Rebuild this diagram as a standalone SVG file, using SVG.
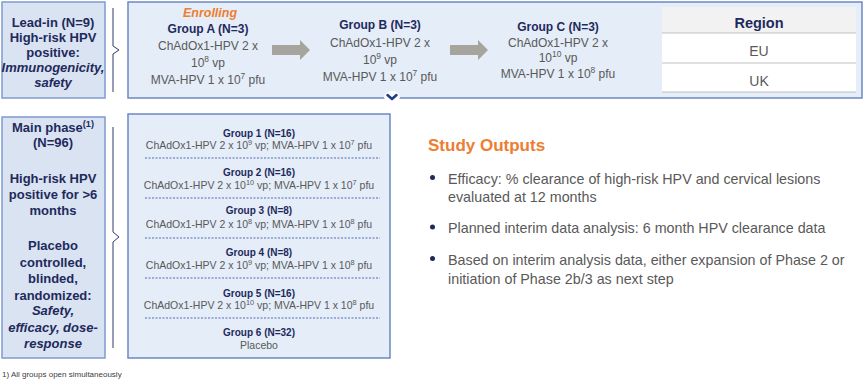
<svg xmlns="http://www.w3.org/2000/svg" width="866" height="380" viewBox="0 0 866 380">
<style>
text{font-family:"Liberation Sans",Arial,sans-serif}
.lbox{fill:#d9e3f1;stroke:#7f9bd0;stroke-width:1.5}
.rbox{fill:#e4edf8;stroke:#6c88c4;stroke-width:1.5}
.nv{fill:#1f2a5c;font-weight:bold}
.gy{fill:#595959}
.c{text-anchor:middle}
.arr{fill:#a6a49c}
.brace{fill:none;stroke:#2e3b6b;stroke-width:1}
.dash{stroke:#4f6eb5;stroke-width:1;stroke-dasharray:2 1.5}
.sup{font-size:70%}
</style>
<rect width="866" height="380" fill="#ffffff"/>
<g id="leadin">
<rect class="lbox" x="2" y="2" width="103" height="96"/>
<text class="nv c" font-size="13" x="53" y="27">Lead-in (N=9)</text>
<text class="nv c" font-size="13" x="53" y="42">High-risk HPV</text>
<text class="nv c" font-size="13" x="53" y="57">positive:</text>
<text class="nv c" font-size="13" x="53" y="72" font-style="italic">Immunogenicity,</text>
<text class="nv c" font-size="13" x="53" y="87" font-style="italic">safety</text>
</g>
<g id="escalation">
<rect class="rbox" x="128" y="2" width="734" height="96"/>
<text class="c" x="210" y="17" font-size="12.5" font-weight="bold" font-style="italic" fill="#ed7d31">Enrolling</text>
<g id="groupA">
<text class="nv c" font-size="12" x="208" y="33">Group A (N=3)</text>
<text class="gy c" font-size="12" x="208" y="50">ChAdOx1-HPV 2 x</text>
<text class="gy c" font-size="12" x="208" y="67">10<tspan class="sup" baseline-shift="super">8</tspan> vp</text>
<text class="gy c" font-size="12" x="208" y="84">MVA-HPV 1 x 10<tspan class="sup" baseline-shift="super">7</tspan> pfu</text>
</g>
<g id="groupB">
<text class="nv c" font-size="12" x="380" y="29">Group B (N=3)</text>
<text class="gy c" font-size="12" x="380" y="47">ChAdOx1-HPV 2 x</text>
<text class="gy c" font-size="12" x="380" y="64">10<tspan class="sup" baseline-shift="super">9</tspan> vp</text>
<text class="gy c" font-size="12" x="380" y="81">MVA-HPV 1 x 10<tspan class="sup" baseline-shift="super">7</tspan> pfu</text>
</g>
<g id="groupC">
<text class="nv c" font-size="12" x="558" y="31">Group C (N=3)</text>
<text class="gy c" font-size="12" x="558" y="47">ChAdOx1-HPV 2 x</text>
<text class="gy c" font-size="12" x="558" y="62">10<tspan class="sup" baseline-shift="super">10</tspan> vp</text>
<text class="gy c" font-size="12" x="558" y="78">MVA-HPV 1 x 10<tspan class="sup" baseline-shift="super">8</tspan> pfu</text>
</g>
<g id="region">
<rect x="662" y="7" width="194" height="26" fill="#f2f2f2"/>
<rect x="662" y="33" width="194" height="59" fill="#ffffff"/>
<line x1="662" y1="33" x2="856" y2="33" stroke="#bfbfbf" stroke-width="1"/>
<line x1="662" y1="63" x2="856" y2="63" stroke="#bfbfbf" stroke-width="1"/>
<line x1="662" y1="92" x2="856" y2="92" stroke="#bfbfbf" stroke-width="1"/>
<text class="nv c" font-size="14.5" x="759" y="28">Region</text>
<text class="gy c" font-size="14" x="759" y="56">EU</text>
<text class="gy c" font-size="14" x="759" y="86">UK</text>
</g>
<g id="chevron">
<ellipse cx="392" cy="97" rx="8" ry="6" fill="#ffffff"/>
<path d="M387.5,95 L392,99 L396.5,95" fill="none" stroke="#1f3c88" stroke-width="2.5" stroke-linecap="round" stroke-linejoin="round"/>
</g>
</g>
<g id="mainphase">
<rect class="lbox" x="2" y="117" width="103" height="241"/>
<text class="nv c" font-size="13" x="53" y="132">Main phase<tspan class="sup" baseline-shift="super">(1)</tspan></text>
<text class="nv c" font-size="13" x="53" y="147">(N=96)</text>
<text class="nv c" font-size="13" x="53" y="183">High-risk HPV</text>
<text class="nv c" font-size="13" x="53" y="199">positive for &gt;6</text>
<text class="nv c" font-size="13" x="53" y="215">months</text>
<text class="nv c" font-size="13" x="53" y="250">Placebo</text>
<text class="nv c" font-size="13" x="53" y="267">controlled,</text>
<text class="nv c" font-size="13" x="53" y="283">blinded,</text>
<text class="nv c" font-size="13" x="53" y="300">randomized:</text>
<text class="nv c" font-size="13" x="53" y="315" font-style="italic">Safety,</text>
<text class="nv c" font-size="13" x="53" y="332" font-style="italic">efficacy, dose-</text>
<text class="nv c" font-size="13" x="53" y="348" font-style="italic">response</text>
</g>
<g id="maingroups">
<rect class="rbox" x="128" y="114" width="262" height="244"/>
<g id="group1">
<text class="nv c" font-size="10" x="259" y="136.5">Group 1 (N=16)</text>
<text class="gy c" font-size="10.5" x="259" y="148.5">ChAdOx1-HPV 2 x 10<tspan class="sup" baseline-shift="super">9</tspan> vp; MVA-HPV 1 x 10<tspan class="sup" baseline-shift="super">7</tspan> pfu</text>
</g>
<g id="group2">
<text class="nv c" font-size="10" x="259" y="175.5">Group 2 (N=16)</text>
<text class="gy c" font-size="10.5" x="259" y="188.5">ChAdOx1-HPV 2 x 10<tspan class="sup" baseline-shift="super">10</tspan> vp; MVA-HPV 1 x 10<tspan class="sup" baseline-shift="super">7</tspan> pfu</text>
</g>
<g id="group3">
<text class="nv c" font-size="10" x="259" y="213.5">Group 3 (N=8)</text>
<text class="gy c" font-size="10.5" x="259" y="227.5">ChAdOx1-HPV 2 x 10<tspan class="sup" baseline-shift="super">8</tspan> vp; MVA-HPV 1 x 10<tspan class="sup" baseline-shift="super">8</tspan> pfu</text>
</g>
<g id="group4">
<text class="nv c" font-size="10" x="259" y="255.5">Group 4 (N=8)</text>
<text class="gy c" font-size="10.5" x="259" y="268.5">ChAdOx1-HPV 2 x 10<tspan class="sup" baseline-shift="super">9</tspan> vp; MVA-HPV 1 x 10<tspan class="sup" baseline-shift="super">8</tspan> pfu</text>
</g>
<g id="group5">
<text class="nv c" font-size="10" x="259" y="296.5">Group 5 (N=16)</text>
<text class="gy c" font-size="10.5" x="259" y="308.5">ChAdOx1-HPV 2 x 10<tspan class="sup" baseline-shift="super">10</tspan> vp; MVA-HPV 1 x 10<tspan class="sup" baseline-shift="super">8</tspan> pfu</text>
</g>
<g id="group6">
<text class="nv c" font-size="10" x="259" y="335.5">Group 6 (N=32)</text>
<text class="gy c" font-size="10.5" x="259" y="348.5">Placebo</text>
</g>
<line class="dash" x1="145" y1="158" x2="380" y2="158"/>
<line class="dash" x1="145" y1="198" x2="380" y2="198"/>
<line class="dash" x1="145" y1="238" x2="380" y2="238"/>
<line class="dash" x1="145" y1="278" x2="380" y2="278"/>
<line class="dash" x1="145" y1="318" x2="380" y2="318"/>
</g>
<g id="outputs">
<text x="428" y="151" font-size="17" font-weight="bold" fill="#ed7d31">Study Outputs</text>
<circle cx="432.5" cy="177.5" r="2.5" fill="#1f2a5c"/>
<circle cx="432.5" cy="227" r="2.5" fill="#1f2a5c"/>
<circle cx="432.5" cy="258.5" r="2.5" fill="#1f2a5c"/>
<text class="gy" font-size="14.3" x="448" y="184">Efficacy: % clearance of high-risk HPV and cervical lesions</text>
<text class="gy" font-size="14.3" x="448" y="202">evaluated at 12 months</text>
<text class="gy" font-size="14.3" x="448" y="233">Planned interim data analysis: 6 month HPV clearance data</text>
<text class="gy" font-size="14.3" x="448" y="265">Based on interim analysis data, either expansion of Phase 2 or</text>
<text class="gy" font-size="14.3" x="448" y="284">initiation of Phase 2b/3 as next step</text>
</g>
<g id="footnote">
<text x="2" y="377" font-size="8" fill="#404040">1) All groups open simultaneously</text>
</g>
<g id="connectors">
<path class="arr" d="M272,45 H300 V40 L310,50 L300,60 V55 H272 Z"/>
<path class="arr" d="M450,45 H478 V40 L488,50 L478,60 V55 H450 Z"/>
<path class="brace" d="M113,8 V46 L119,50 L113,54 V92"/>
<path class="brace" d="M113,127 V232 L119,237 L113,242 V348"/>
</g>
</svg>
